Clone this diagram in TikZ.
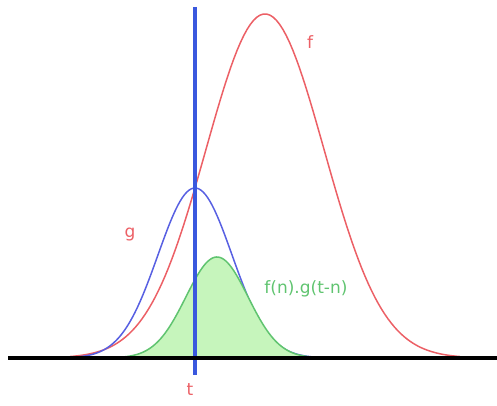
\documentclass[tikz,border=0pt]{standalone}
\usepackage{fontspec}
\setmainfont{DejaVu Sans}
\usetikzlibrary{positioning}
\definecolor{CurveRed}{RGB}{236,96,102}
\definecolor{CurveBlue}{RGB}{88,96,226}
\definecolor{LineBlue}{RGB}{58,88,222}
\definecolor{ProdGreen}{RGB}{96,196,112}
\definecolor{SoftGreen}{RGB}{198,245,188}

\begin{document}
\begin{tikzpicture}[x=1pt,y=1pt,font=\fontsize{17}{17}\selectfont,lbl/.style={inner sep=0pt},curve/.style={line width=1.5pt,samples=120}]
\useasboundingbox (0,-47) rectangle (497,358);
% f and g
\draw[curve,CurveRed] plot[domain=70:460] (\x,{344*exp(-0.5*((\x-265)/59)^2)});
\draw[curve,CurveBlue] plot[domain=55:335] (\x,{170*exp(-0.5*((\x-195)/37)^2)});
% product f(n).g(t-n)
\fill[SoftGreen] plot[domain=110:325,samples=120] (\x,{101*exp(-0.5*((\x-217)/31)^2)}) -- cycle;
\draw[curve,ProdGreen] plot[domain=110:325] (\x,{101*exp(-0.5*((\x-217)/31)^2)});
% axis and t
\coordinate (ax0) at (8,0);\coordinate (ax1) at (497,0);
\coordinate (ttop) at (195,351);\coordinate (tbot) at (195,-17);
\draw[line width=3.4pt,LineBlue] (ttop) -- (tbot);
\draw[line width=4pt,black] (ax0) -- (ax1);
\node[lbl,CurveRed,below=8pt of tbot,xshift=-5pt] (tlbl){t};
\node[lbl,CurveRed] (flbl) at (310,316){f};
\node[lbl,CurveRed] (glbl) at (130,123){g};
\node[lbl,ProdGreen] (plbl) at (306,69){f(n).g(t-n)};
\end{tikzpicture}
\end{document}
